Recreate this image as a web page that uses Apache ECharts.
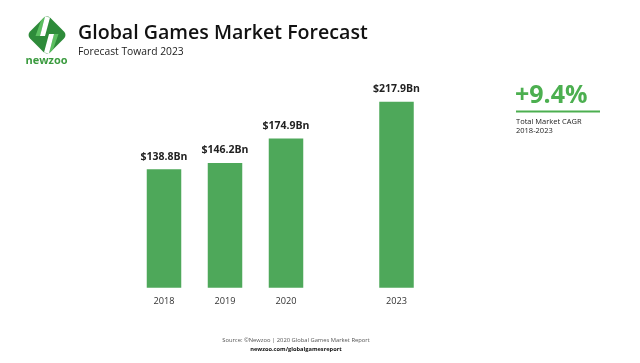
<!DOCTYPE html>
<html>
<head>
<meta charset="utf-8">
<script src="https://cdn.jsdelivr.net/npm/echarts@6/dist/echarts.min.js"></script>
<style>
html,body{margin:0;padding:0;background:#fff;}
#chart{width:640px;height:363px;}
</style>
</head>
<body>
<div id="chart"></div>
<script>
// Data
const categories = ['2018', '2019', '2020', '2023'];
const values = [138.8, 146.2, 174.9, 217.9];
const historicCount = 3; // first three bars in the left group, last one separated
const cagrText = '+9.4%';
const cagrLabel = ['Total Market CAGR', '2018-2023'];

const barColor = '#4ea85a';
const green = '#4caf50';

const chart = echarts.init(document.getElementById('chart'), null, {renderer: 'canvas'});

const labelCfg = {
  show: true, position: 'top', distance: 7,
  color: '#222', fontSize: 10.5, fontWeight: 'bold', fontFamily: 'Open Sans',
  formatter: p => '$' + p.value.toFixed(1) + 'Bn'
};
const xAxisBase = {
  type: 'category',
  axisLine: {show: false}, axisTick: {show: false},
  axisLabel: {color: '#333', fontSize: 9.2, fontFamily: 'Open Sans', margin: 9}
};
const yAxisBase = {type: 'value', min: 0, max: 250, show: false};

chart.setOption({
  animation: false,
  grid: [
    {left: 133.5, width: 183, top: 74.3, height: 213.4},
    {left: 366, width: 61, top: 74.3, height: 213.4}
  ],
  xAxis: [
    Object.assign({gridIndex: 0, data: categories.slice(0, historicCount)}, xAxisBase),
    Object.assign({gridIndex: 1, data: categories.slice(historicCount)}, xAxisBase)
  ],
  yAxis: [
    Object.assign({gridIndex: 0}, yAxisBase),
    Object.assign({gridIndex: 1}, yAxisBase)
  ],
  series: [
    {type: 'bar', xAxisIndex: 0, yAxisIndex: 0, barWidth: 34.5,
     itemStyle: {color: barColor}, label: labelCfg,
     data: values.slice(0, historicCount)},
    {type: 'bar', xAxisIndex: 1, yAxisIndex: 1, barWidth: 34.5,
     itemStyle: {color: barColor}, label: labelCfg,
     data: values.slice(historicCount)}
  ],
  graphic: [
    // logo diamond
    {type: 'rect', x: 47, y: 35, rotation: Math.PI / 4,
     shape: {x: -14.5, y: -14.5, width: 29, height: 29, r: 5},
     style: {fill: '#2e8b3a'}},
    {type: 'polygon', shape: {points: [[41, 20.5], [45, 16.5], [40, 36], [35.5, 36]]},
     style: {fill: '#5cbf60'}},
    {type: 'polygon', shape: {points: [[54, 34], [58.5, 34], [53, 49.5], [49, 53.5]]},
     style: {fill: '#5cbf60'}},
    {type: 'polygon', shape: {points: [[45, 16.5], [50, 17.5], [45, 36], [40, 36]]},
     style: {fill: '#ffffff'}},
    {type: 'polygon', shape: {points: [[49, 34], [54, 34], [49, 53.5], [44, 52.5]]},
     style: {fill: '#ffffff'}},
    {type: 'text', x: 46.5, y: 61,
     style: {text: 'newzoo', fill: '#3b9b3f', font: 'bold 11px "Open Sans"', textAlign: 'center', textVerticalAlign: 'middle'}},
    // titles
    {type: 'text', x: 78, y: 33,
     style: {text: 'Global Games Market Forecast', fill: '#111', font: '600 19.6px "Open Sans"', textVerticalAlign: 'middle'}},
    {type: 'text', x: 78, y: 52,
     style: {text: 'Forecast Toward 2023', fill: '#222', font: '10.3px "Open Sans"', textVerticalAlign: 'middle'}},
    // CAGR
    {type: 'text', x: 515, y: 96,
     style: {text: cagrText, fill: green, font: 'bold 25px "Open Sans"', textVerticalAlign: 'middle'}},
    {type: 'rect', shape: {x: 516, y: 110.5, width: 84, height: 2}, style: {fill: green}},
    {type: 'text', x: 516, y: 122,
     style: {text: cagrLabel[0], fill: '#222', font: '7.5px "Open Sans"', textVerticalAlign: 'middle'}},
    {type: 'text', x: 516, y: 130.5,
     style: {text: cagrLabel[1], fill: '#222', font: '7.5px "Open Sans"', textVerticalAlign: 'middle'}},
    // footer
    {type: 'text', x: 296, y: 340,
     style: {text: 'Source: ©Newzoo | 2020 Global Games Market Report', fill: '#555', font: '5.8px "Open Sans"', textAlign: 'center', textVerticalAlign: 'middle'}},
    {type: 'text', x: 296, y: 349.5,
     style: {text: 'newzoo.com/globalgamesreport', fill: '#111', font: 'bold 5.7px "Open Sans"', textAlign: 'center', textVerticalAlign: 'middle'}}
  ]
});
</script>
</body>
</html>
